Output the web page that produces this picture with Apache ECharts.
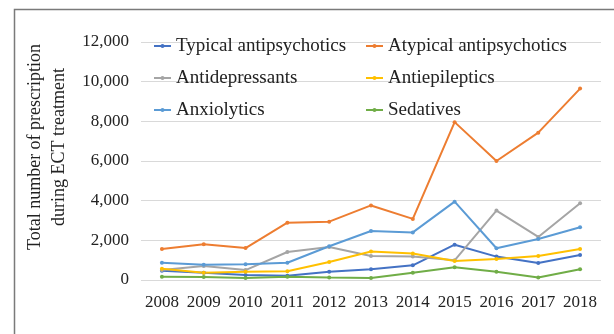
<!DOCTYPE html>
<html>
<head>
<meta charset="utf-8">
<script src="https://cdn.jsdelivr.net/npm/echarts@6/dist/echarts.min.js"></script>
<style>
  html, body { margin: 0; padding: 0; background: #fff; }
  #chart { width: 614px; height: 334px; }
</style>
</head>
<body>
<div id="chart"></div>
<script>
const years = ['2008', '2009', '2010', '2011', '2012', '2013', '2014', '2015', '2016', '2017', '2018']

const typical = [470, 370, 250, 220, 420, 540, 740, 1780, 1180, 860, 1260]
const atypical = [1560, 1800, 1610, 2890, 2940, 3760, 3080, 7960, 6000, 7430, 9650]
const antidepressants = [500, 700, 500, 1410, 1660, 1210, 1180, 990, 3500, 2170, 3870]
const antiepileptics = [570, 370, 420, 440, 910, 1440, 1340, 960, 1060, 1210, 1560]
const anxiolytics = [870, 770, 800, 870, 1700, 2470, 2400, 3950, 1600, 2070, 2660]
const sedatives = [170, 150, 100, 170, 130, 100, 370, 640, 420, 130, 540]

const serif = '"Liberation Serif", "DejaVu Serif", serif'

function lineSeries(name, data, color) {
  return {
    name: name,
    type: 'line',
    data: data,
    symbol: 'circle',
    symbolSize: 4,
    lineStyle: { width: 2, color: color },
    itemStyle: { color: color }
  }
}

function legendCol(left, names) {
  return {
    orient: 'vertical',
    left: left,
    top: 31,
    itemWidth: 17,
    itemHeight: 5,
    itemGap: 12,
    textStyle: { fontFamily: serif, fontSize: 19, color: '#222', lineHeight: 20 },
    data: names
  }
}

const chart = echarts.init(document.getElementById('chart'))

const option = {
  animation: false,
  graphic: [
    {
      type: 'rect',
      shape: { x: 14.5, y: 9.5, width: 700, height: 400 },
      style: { fill: 'none', stroke: '#7a7a7a', lineWidth: 1.5 },
      silent: true
    }
  ],
  legend: [
    legendCol(148, ['Typical antipsychotics', 'Antidepressants', 'Anxiolytics']),
    legendCol(360, ['Atypical antipsychotics', 'Antiepileptics', 'Sedatives'])
  ],
  grid: {
    left: 141,
    right: 13,
    top: 42,
    bottom: 54
  },
  xAxis: {
    type: 'category',
    data: years,
    boundaryGap: true,
    axisLine: { show: false },
    axisTick: { show: false },
    axisLabel: { interval: 0, fontFamily: serif, fontSize: 17, color: '#222', margin: 14 }
  },
  yAxis: {
    type: 'value',
    min: 0,
    max: 12000,
    interval: 2000,
    name: 'Total number of prescription\nduring ECT treatment',
    nameLocation: 'middle',
    nameGap: 63,
    nameTextStyle: {
      fontFamily: serif,
      fontSize: 18,
      color: '#222',
      lineHeight: 24,
      padding: [0, 0, 0, 28]
    },
    axisLine: { show: false },
    axisTick: { show: false },
    splitLine: { lineStyle: { color: '#d9d9d9', width: 1 } },
    axisLabel: {
      fontFamily: serif,
      fontSize: 17,
      color: '#222',
      margin: 12,
      formatter: v => v.toLocaleString('en-US')
    }
  },
  series: [
    lineSeries('Typical antipsychotics', typical, '#4472c4'),
    lineSeries('Atypical antipsychotics', atypical, '#ed7d31'),
    lineSeries('Antidepressants', antidepressants, '#a5a5a5'),
    lineSeries('Antiepileptics', antiepileptics, '#ffc000'),
    lineSeries('Anxiolytics', anxiolytics, '#5b9bd5'),
    lineSeries('Sedatives', sedatives, '#70ad47')
  ]
}

chart.setOption(option)
</script>
</body>
</html>
